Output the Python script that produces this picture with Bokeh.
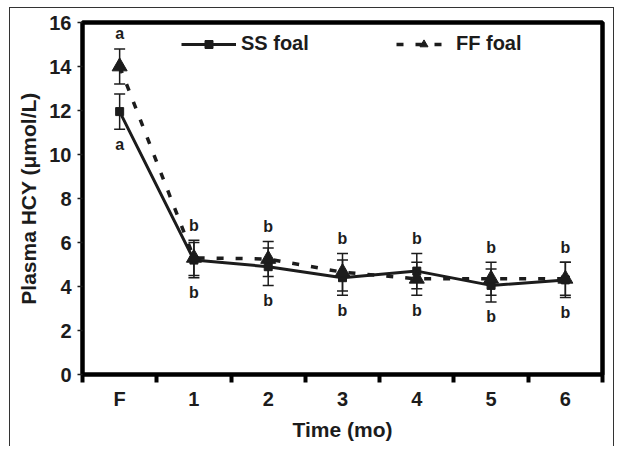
from bokeh.plotting import figure
from bokeh.models import (ColumnDataSource, FixedTicker, Whisker, TeeHead, Legend, LegendItem)
from bokeh.core.properties import value
from bokeh.embed import file_html
from bokeh.resources import INLINE

# ---- data ----
time_labels = ["F", "1", "2", "3", "4", "5", "6"]
ss_mean = [11.95, 5.2, 4.9, 4.4, 4.7, 4.05, 4.3]
ss_err = [0.8, 0.8, 0.85, 0.8, 0.8, 0.75, 0.8]
ff_mean = [14.0, 5.3, 5.25, 4.65, 4.35, 4.35, 4.35]
ff_err = [0.8, 0.8, 0.8, 0.85, 0.75, 0.75, 0.75]
letters_top = ["a", "b", "b", "b", "b", "b", "b"]
letters_bottom = ["a", "b", "b", "b", "b", "b", "b"]
y_ticks = [0, 2, 4, 6, 8, 10, 12, 14, 16]

INK = "#1c1c1c"
FONT = "Liberation Sans"

xs = list(range(len(time_labels)))
ss_src = ColumnDataSource(dict(x=xs, y=ss_mean,
                               lo=[m - e for m, e in zip(ss_mean, ss_err)],
                               hi=[m + e for m, e in zip(ss_mean, ss_err)]))
ff_src = ColumnDataSource(dict(x=xs, y=ff_mean,
                               lo=[m - e for m, e in zip(ff_mean, ff_err)],
                               hi=[m + e for m, e in zip(ff_mean, ff_err)]))
top_y = [max(a + b, c + d) for a, b, c, d in zip(ss_mean, ss_err, ff_mean, ff_err)]
bot_y = [min(a - b, c - d) for a, b, c, d in zip(ss_mean, ss_err, ff_mean, ff_err)]
lab_src = ColumnDataSource(dict(x=xs, top=top_y, bot=bot_y, lt=letters_top, lb=letters_bottom))

p = figure(width=605, height=439, x_range=(-0.5, 6.5), y_range=(0, 16),
           output_backend="svg", toolbar_location=None,
           min_border_left=72, min_border_right=13, min_border_top=14, min_border_bottom=73,
           margin=(7, 0, 0, 9),
           styles={"border-left": "1.5px solid #333", "border-top": "1.5px solid #333",
                   "border-right": "1.5px solid #333"})
p.xgrid.visible = False
p.ygrid.visible = False
p.outline_line_color = "black"
p.outline_line_width = 4.5
p.background_fill_color = "white"
p.border_fill_color = "white"

# axes
xa = p.xaxis[0]
xa.ticker = FixedTicker(ticks=xs, minor_ticks=[i - 0.5 for i in range(len(xs) + 1)])
xa.major_label_overrides = {i: t for i, t in enumerate(time_labels)}
xa.major_tick_out = 0
xa.major_tick_in = 0
xa.minor_tick_out = 8
xa.minor_tick_in = 0
xa.minor_tick_line_width = 4
xa.minor_tick_line_color = "black"
xa.axis_line_color = None
xa.major_label_standoff = 5
xa.axis_label = "Time (mo)"
xa.axis_label_standoff = 5

ya = p.yaxis[0]
ya.ticker = FixedTicker(ticks=y_ticks)
ya.minor_tick_line_color = None
ya.major_tick_out = 5
ya.major_tick_in = 0
ya.major_tick_line_width = 1.5
ya.major_tick_line_color = INK
ya.axis_line_color = None
ya.major_label_standoff = 6
ya.axis_label = "Plasma HCY (\u03bcmol/L)"
ya.axis_label_standoff = 6

for ax in (xa, ya):
    ax.major_label_text_font = FONT
    ax.major_label_text_font_style = "bold"
    ax.major_label_text_font_size = "20px"
    ax.major_label_text_color = INK
    ax.axis_label_text_font = FONT
    ax.axis_label_text_font_style = "bold"
    ax.axis_label_text_font_size = "21px"
    ax.axis_label_text_color = INK

# series lines
ss_line = p.line("x", "y", source=ss_src, line_color=INK, line_width=3)
ff_line = p.line("x", "y", source=ff_src, line_color=INK, line_width=3.5, line_dash="7 12")

# error bars
for src in (ss_src, ff_src):
    w = Whisker(base="x", lower="lo", upper="hi", source=src,
                line_color=INK, line_width=1.5,
                upper_head=TeeHead(size=11, line_color=INK, line_width=1.5),
                lower_head=TeeHead(size=11, line_color=INK, line_width=1.5))
    p.add_layout(w)

ss_mark = p.scatter("x", "y", source=ss_src, marker="square", size=8,
                    fill_color=INK, line_color=INK)
ff_mark = p.scatter("x", "y", source=ff_src, marker="triangle", size=15,
                    fill_color=INK, line_color=INK)

# significance letters
p.text("x", "top", text="lt", source=lab_src, text_align="center", text_baseline="middle",
       y_offset=-15, text_font=value(FONT), text_font_style="bold", text_font_size="16px",
       text_color=INK)
p.text("x", "bot", text="lb", source=lab_src, text_align="center", text_baseline="middle",
       y_offset=15, text_font=value(FONT), text_font_style="bold", text_font_size="16px",
       text_color=INK)

# legends
def make_legend(label, renderers, loc):
    lg = Legend(items=[LegendItem(label=label, renderers=renderers)], location=loc,
                orientation="horizontal", glyph_width=55, glyph_height=20,
                label_standoff=5, padding=0, margin=0, spacing=0,
                border_line_color=None, background_fill_alpha=0,
                label_text_font=FONT, label_text_font_style="bold",
                label_text_font_size="20px", label_text_color=INK)
    p.add_layout(lg, "center")

make_legend("SS foal", [ss_line, ss_mark], (99, 319))
make_legend("FF foal", [ff_line, ff_mark], (314, 319))

open("out.html", "w").write(file_html(p, INLINE))
